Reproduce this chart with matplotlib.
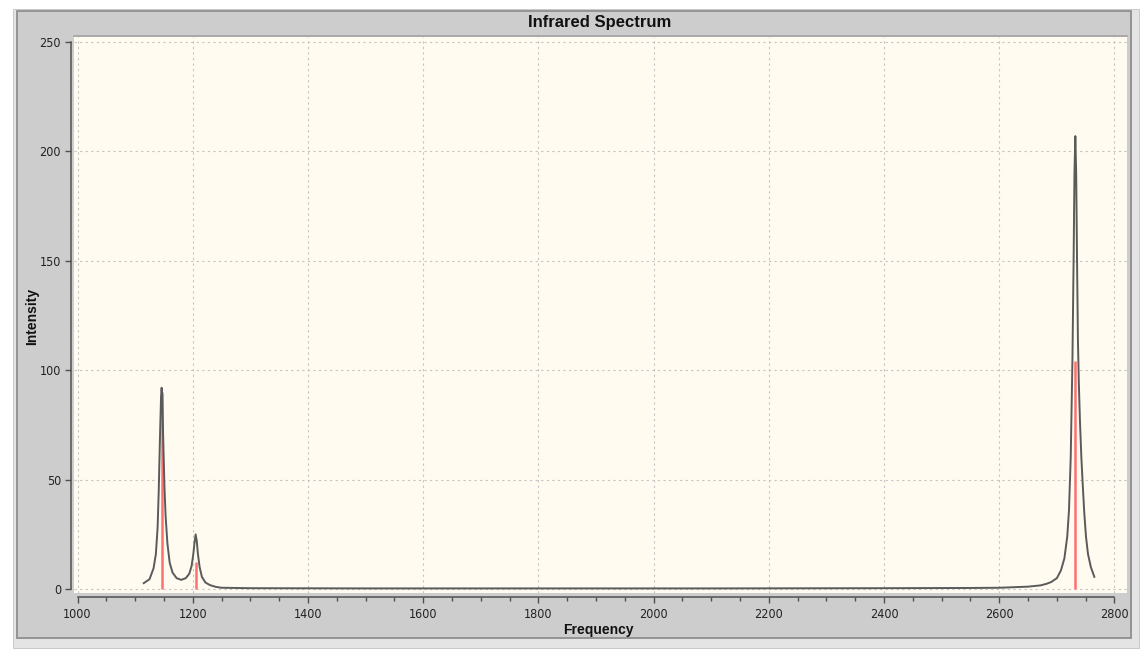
import matplotlib
matplotlib.use("Agg")
import matplotlib.pyplot as plt
from matplotlib.patches import Rectangle
from matplotlib.lines import Line2D
from matplotlib.ticker import MultipleLocator

# broadened spectrum
freq_curve = [1115, 1125, 1132, 1136, 1139, 1141, 1143, 1145, 1146, 1147,
              1149, 1151, 1153, 1156, 1160, 1165, 1172, 1180, 1188, 1194,
              1198, 1201, 1203, 1205, 1207, 1209, 1212, 1216, 1222, 1230,
              1240, 1250, 1300, 1500, 1800, 2100, 2400, 2550, 2600, 2630,
              2650, 2665, 2672, 2682, 2690, 2700, 2707, 2713, 2718, 2721,
              2724, 2727, 2729, 2730.5, 2732, 2733.5, 2735, 2736.5, 2738, 2740,
              2742.5, 2745, 2747.5, 2750.5, 2754, 2759, 2765]
int_curve = [2.7, 4.5, 9.5, 16, 28, 45, 68, 88, 92, 88,
             66, 46, 33, 21, 12, 7.5, 5, 4.2, 5, 7,
             10.5, 16, 21, 25, 22, 16, 10, 5.5, 3, 1.8,
             1.0, 0.6, 0.4, 0.3, 0.3, 0.3, 0.4, 0.5, 0.6, 0.9,
             1.1, 1.5, 1.7, 2.4, 3.2, 5, 8.5, 14, 24, 36,
             60, 105, 150, 190, 207, 190, 150, 114, 95, 77,
             60, 47, 35, 24, 16, 10, 5.6]

# stick spectrum
freq_sticks = [1146, 1205, 2732]
int_sticks = [90, 12.5, 104]

x_ticks = [1000, 1200, 1400, 1600, 1800, 2000, 2200, 2400, 2600, 2800]
y_ticks = [0, 50, 100, 150, 200, 250]

W, H = 1148, 659


def rect(fig, x0, y0, x1, y1, **kw):
    # rectangle given in pixel coords (origin top left)
    r = Rectangle((x0 / W, 1 - y1 / H), (x1 - x0) / W, (y1 - y0) / H,
                  transform=fig.transFigure, **kw)
    fig.add_artist(r)


def main():
    fig = plt.figure(figsize=(W / 100, H / 100), dpi=100, facecolor="white")

    # window frame
    rect(fig, 13, 9, 1139, 648, facecolor="#E4E4E4", edgecolor="#C8C8C8", lw=0.7, zorder=0)
    rect(fig, 17, 11, 1131, 638, facecolor="#CDCDCD", edgecolor="#8E8E8E", lw=1.3, zorder=0)
    fig.add_artist(Line2D([74 / W, 1127 / W], [1 - 36 / H, 1 - 36 / H],
                          transform=fig.transFigure, color="#A4A4A4", lw=1.2))

    ax = fig.add_axes([74 / W, 1 - 593 / H, (1127 - 74) / W, (593 - 37) / H])
    ax.set_facecolor("#FFFBF0")
    ax.set_xlim(993.9, 2821.7)
    ax.set_ylim(-1.8, 252.3)

    ax.grid(True, color="#C4C4C4", lw=0.8, linestyle=(0, (2, 3)))
    ax.set_axisbelow(True)

    ax.vlines(freq_sticks, 0, int_sticks, color="#FF7070", lw=1.8, zorder=2)
    ax.plot(freq_curve, int_curve, color="#5A5A5A", lw=1.4, zorder=3)

    for s in ["top", "right"]:
        ax.spines[s].set_visible(False)
    ax.spines["left"].set_position(("outward", 2.2))
    ax.spines["bottom"].set_position(("outward", 2.9))
    ax.spines["left"].set_bounds(0, 250)
    ax.spines["bottom"].set_bounds(1000, 2800)
    for s in ["left", "bottom"]:
        ax.spines[s].set_color("#505050")
        ax.spines[s].set_linewidth(1.1)

    ax.set_xticks(x_ticks)
    ax.set_yticks(y_ticks)
    ax.xaxis.set_minor_locator(MultipleLocator(50))
    ax.tick_params(axis="both", which="major", direction="out", length=4.5,
                   width=1.0, color="#505050", labelcolor="#222222", labelsize=9)
    ax.tick_params(axis="x", which="minor", direction="out", length=2.7,
                   width=1.0, color="#505050")
    ax.tick_params(axis="x", pad=3.2)
    ax.tick_params(axis="y", pad=2.6)
    for lab in ax.get_xticklabels() + ax.get_yticklabels():
        lab.set_family("DejaVu Sans")
        lab.set_fontstretch("condensed")

    fig.text(600 / W, 1 - 22 / H, "Infrared Spectrum", ha="center", va="center",
             fontsize=12, fontweight="bold", family=["Liberation Sans", "DejaVu Sans"],
             color="#111111")
    fig.text(598 / W, 1 - 630 / H, "Frequency", ha="center", va="center",
             fontsize=10, fontweight="bold", family=["Liberation Sans", "DejaVu Sans"],
             color="#111111")
    fig.text(32 / W, 1 - 316 / H, "Intensity", ha="center", va="center", rotation=90,
             fontsize=10, fontweight="bold", family=["Liberation Sans", "DejaVu Sans"],
             color="#111111")

    fig.savefig("out.png", dpi=100)


if __name__ == "__main__":
    main()
